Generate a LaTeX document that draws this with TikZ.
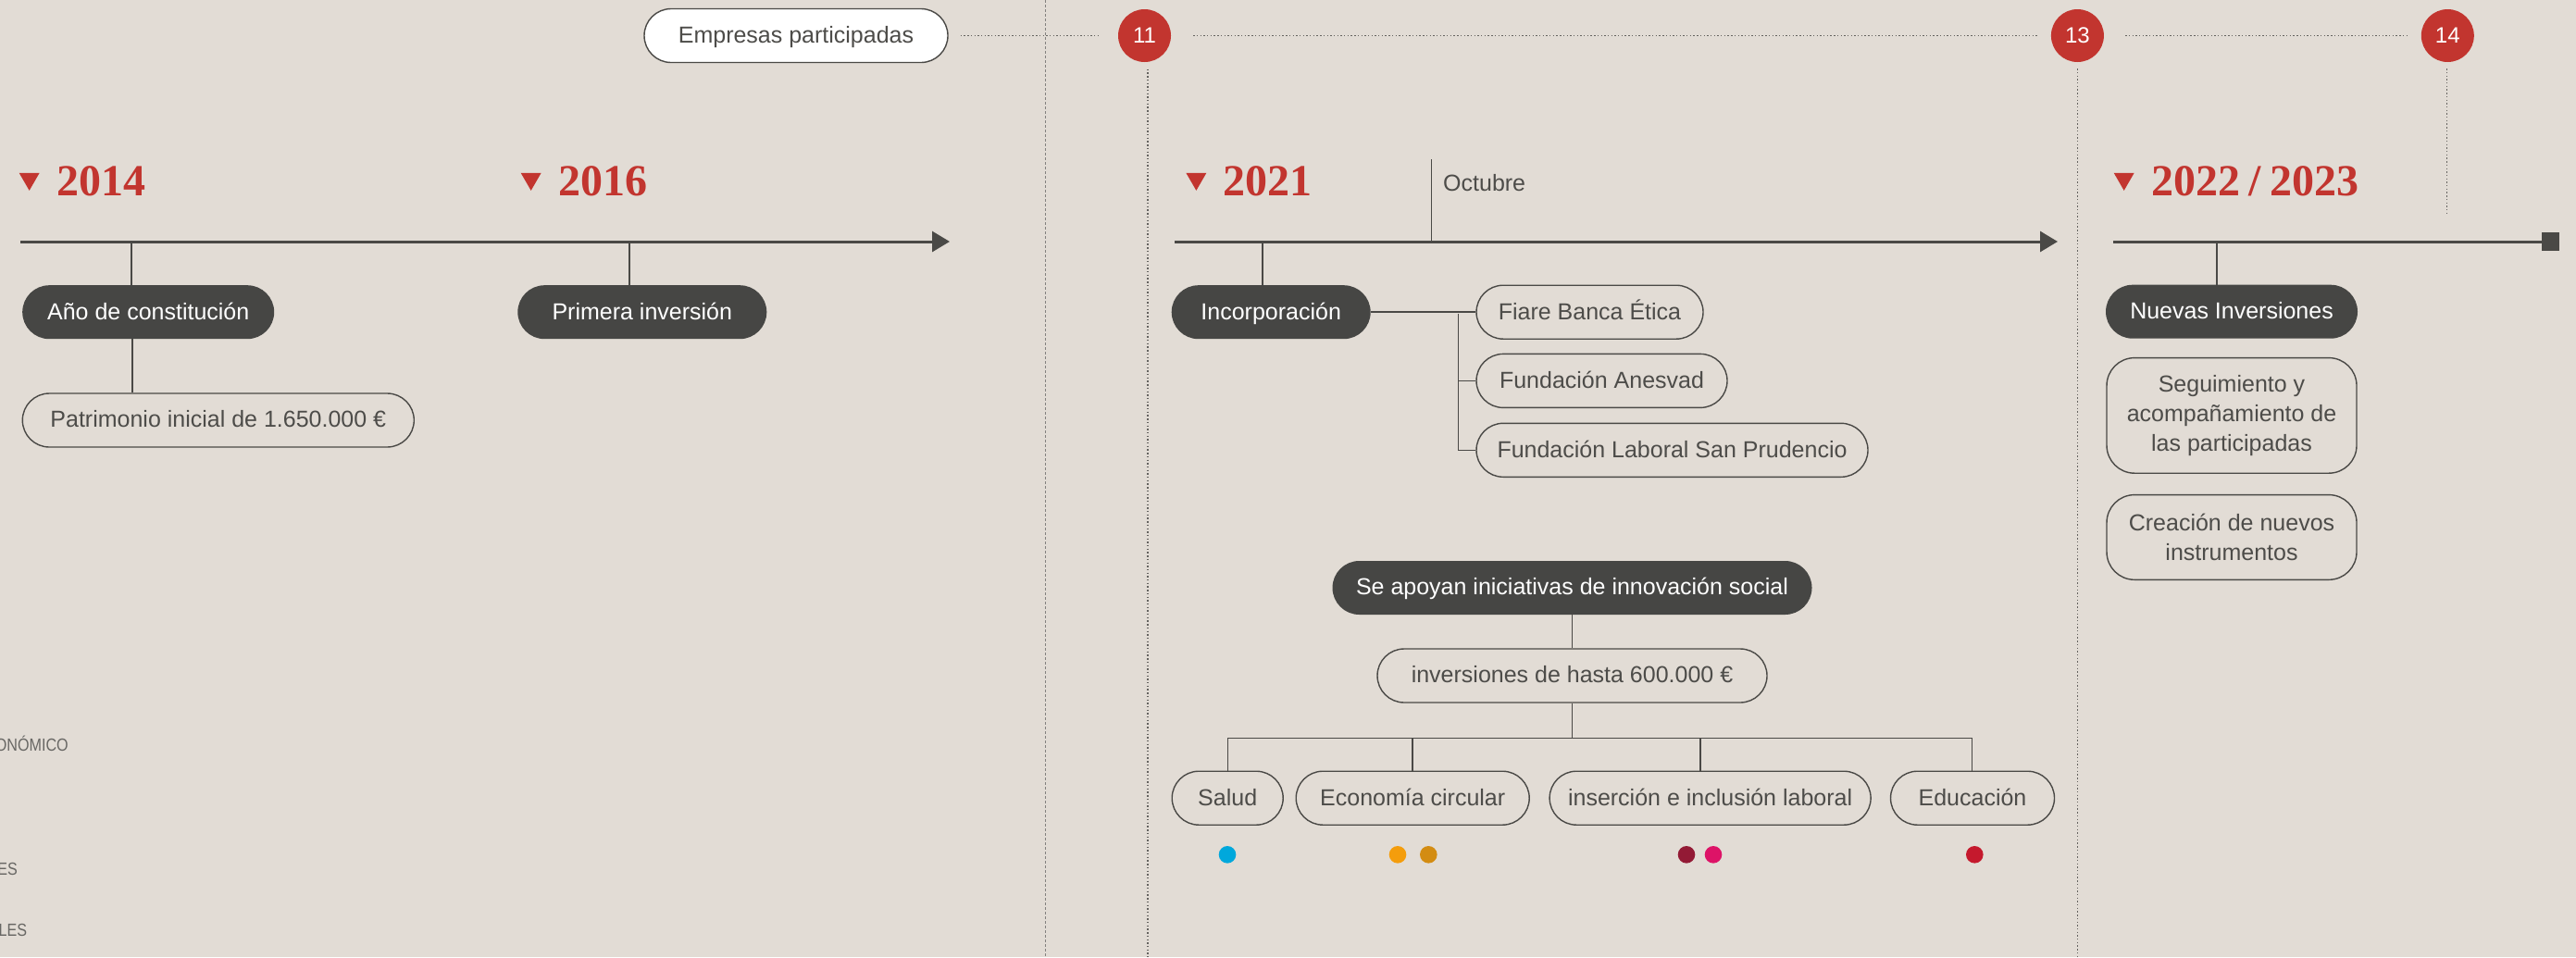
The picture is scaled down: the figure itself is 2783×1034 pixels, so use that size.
\documentclass[tikz,border=0pt]{standalone}
\usepackage{fontspec}
\setmainfont{Liberation Sans}
\newfontfamily\yearfont{Liberation Serif}
\newfontfamily\sidefont[FakeStretch=0.85]{Liberation Sans}
\usepackage{xcolor}
\usetikzlibrary{shapes.geometric,arrows.meta,positioning}

\definecolor{paper}{HTML}{E2DCD5}
\definecolor{ink}{HTML}{464644}
\definecolor{rule}{HTML}{4A4946}
\definecolor{brick}{HTML}{C2352F}
\definecolor{greytext}{HTML}{4D4C49}
\definecolor{dotgrey}{HTML}{64625F}
\definecolor{sdgcyan}{HTML}{00A8DC}
\definecolor{sdgorange}{HTML}{F49D0C}
\definecolor{sdgochre}{HTML}{D38C12}
\definecolor{sdgwine}{HTML}{931A35}
\definecolor{sdgpink}{HTML}{DD1367}
\definecolor{sdgred}{HTML}{C5192D}

\begin{document}
\begin{tikzpicture}[
			x = 1pt, y = -1pt,
			every node/.style = {font=\fontsize{25}{30}\selectfont},
			pill/.style = {rectangle, rounded corners=29pt, minimum height=58pt, inner xsep=0pt, text height=19pt, text depth=3.4pt},
			darkpill/.style = {pill, fill=ink, text=white},
			linepill/.style = {pill, draw=rule, line width=1.4pt, text=greytext},
			infobox/.style = {rectangle, rounded corners=30pt, draw=rule, line width=1.4pt, text=greytext, align=center, minimum width=270pt, inner sep=0pt, font=\fontsize{25}{31.7}\selectfont},
			yearlbl/.style = {anchor=base west, inner sep=0pt, text=brick, font=\yearfont\bfseries\fontsize{48}{48}\selectfont},
			yeartri/.style = {regular polygon, regular polygon sides=3, shape border rotate=180, fill=brick, minimum size=25.4pt, inner sep=0pt, outer sep=0pt},
			numcirc/.style = {circle, fill=brick, text=white, minimum size=57pt, inner sep=0pt, font=\fontsize{24}{24}\selectfont},
			sdgdot/.style = {circle, minimum size=18.6pt, inner sep=0pt},
			axis/.style = {draw=rule, line width=3pt},
			tick/.style = {draw=rule, line width=1.5pt},
			dotline/.style = {draw=dotgrey, line width=1.4pt, dash pattern=on 1.4pt off 2.3pt},
			gutter/.style = {draw=dotgrey!80, line width=0.9pt, dash pattern=on 2.5pt off 2.5pt},
			sidelbl/.style = {anchor=base east, inner sep=0pt, text=greytext!85, font=\sidefont\fontsize{19}{19}\selectfont}
		]

			\useasboundingbox (0,0) rectangle (2783,1034);
			\fill[paper] (0,0) rectangle (2783,1034);

			% page fold and top strip
			\coordinate (gtop) at (1129.5,0);
			\coordinate (gbot) at (1129.5,1034);
			\draw[gutter] (gtop) -- (gbot);

			\node[linepill, fill=white, minimum width=328pt] (emp) at (860,38.5) {Empresas participadas};
			\node[numcirc] (c11) at (1236.5,38.5) {11};
			\node[numcirc] (c13) at (2244.4,38.5) {13};
			\node[numcirc] (c14) at (2644.3,38.5) {14};

			\draw[dotline, shorten <=13pt, shorten >=22pt] (emp.east) -- (c11.west);
			\draw[dotline, shorten <=24pt, shorten >=14pt] (c11.east) -- (c13.west);
			\draw[dotline, shorten <=23pt, shorten >=14pt] (c13.east) -- (c14.west);

			\coordinate (v11) at (1240,1034);
			\coordinate (v13) at (2244.3,1034);
			\coordinate (v14) at (2643.3,232.3);
			\draw[dotline, shorten <=7.5pt] (v11 |- c11.south) -- (v11);
			\draw[dotline, shorten <=7pt] (v13 |- c13.south) -- (v13);
			\draw[dotline, shorten <=7pt] (v14 |- c14.south) -- (v14);

			% timelines
			\coordinate (l1s) at (22,261);
			\coordinate (l1e) at (1026,261);
			\coordinate (l2s) at (1269,261);
			\coordinate (l2e) at (2223,261);
			\coordinate (l3s) at (2283,261);
			\node[rectangle, fill=rule, minimum size=19.3pt, inner sep=0pt] (sq) at (2755.5,261) {};

			\draw[axis, -{Triangle[length=19pt,width=22pt]}] (l1s) -- (l1e);
			\draw[axis, -{Triangle[length=19pt,width=22pt]}] (l2s) -- (l2e);
			\draw[axis] (l3s) -- (sq.west);

			% years
			\node[yearlbl] (y2014) at (61,211.7) {2014};
			\node[yearlbl] (y2016) at (603,211.7) {2016};
			\node[yearlbl] (y2021) at (1321.7,211.7) {2021};
			\node[yearlbl] (y2022) at (2324,211.7) {2022\hspace{0.2em}/\hspace{0.2em}2023};
			\node[yeartri, left=22pt of y2014, yshift=2.8pt] (m2014) {};
			\node[yeartri, left=22pt of y2016, yshift=2.8pt] (m2016) {};
			\node[yeartri, left=22pt of y2021, yshift=2.8pt] (m2021) {};
			\node[yeartri, left=22pt of y2022, yshift=2.8pt] (m2022) {};

			\node[anchor=base west, inner sep=0pt, text=greytext] (oct) at (1559,206) {Octubre};
			\coordinate (octx) at (1546.7,172.3);
			\draw[tick] (octx) -- (octx |- l2s);

			% 2014 / 2016
			\node[darkpill, minimum width=272pt] (anio) at (160.2,337.2) {Año de constitución};
			\node[linepill, minimum width=423pt] (patr) at (235.8,454) {Patrimonio inicial de 1.650.000 €};
			\node[darkpill, minimum width=269pt] (prim) at (693.8,337.2) {Primera inversión};

			\draw[tick] ([xshift=-18pt]anio.north) -- ([xshift=-18pt]anio.north |- l1s);
			\draw[tick] ([xshift=-17pt]anio.south) -- ([xshift=-17pt]anio.south |- patr.north);
			\draw[tick] ([xshift=-14pt]prim.north) -- ([xshift=-14pt]prim.north |- l1s);

			% 2021
			\node[darkpill, minimum width=215pt] (incorp) at (1373.2,337.2) {Incorporación};
			\node[linepill, minimum width=245pt] (fiare) at (1717.5,337.2) {Fiare Banca Ética};
			\node[linepill, minimum width=271pt] (anesvad) at (1730.5,411.4) {Fundación Anesvad};
			\node[linepill, minimum width=423pt] (laboral) at (1806.5,486.3) {Fundación Laboral San Prudencio};

			\draw[tick] ([xshift=-9pt]incorp.north) -- ([xshift=-9pt]incorp.north |- l2s);
			\draw[tick] (incorp.east) -- (fiare.west);
			\coordinate (br) at (1575.3,339);
			\draw[tick] (br) |- (laboral.west);
			\draw[tick] (br |- anesvad.west) -- (anesvad.west);

			\node[darkpill, minimum width=518pt] (apoyan) at (1698.5,635) {Se apoyan iniciativas de innovación social};
			\node[linepill, minimum width=421pt] (hasta) at (1698.5,730) {inversiones de hasta 600.000 €};
			\node[linepill, minimum width=120pt] (salud) at (1326.2,862.2) {Salud};
			\node[linepill, minimum width=252pt] (eco) at (1526.2,862.2) {Economía circular};
			\node[linepill, minimum width=347pt] (ins) at (1847.6,862.2) {inserción e inclusión laboral};
			\node[linepill, minimum width=177pt] (edu) at (2131,862.2) {Educación};

			\draw[tick] (apoyan.south) -- (hasta.north);
			\coordinate (barL) at (1326.7,797.3);
			\coordinate (barR) at (2130.5,797.3);
			\draw[tick] (hasta.south) -- (hasta.south |- barL);
			\draw[tick] (barL |- salud.north) -- (barL) -- (barR) -- (barR |- edu.north);
			\draw[tick] (eco.north |- barL) -- (eco.north);
			\draw[tick] ([xshift=-10.5pt]ins.north |- barL) -- ([xshift=-10.5pt]ins.north);

			\node[sdgdot, fill=sdgcyan] (d1) at (1326,923.3) {};
			\node[sdgdot, fill=sdgorange] (d2) at (1510,923.3) {};
			\node[sdgdot, fill=sdgochre] (d3) at (1543.3,923.3) {};
			\node[sdgdot, fill=sdgwine] (d4) at (1822,923.3) {};
			\node[sdgdot, fill=sdgpink] (d5) at (1851,923.3) {};
			\node[sdgdot, fill=sdgred] (d6) at (2133.3,923.3) {};

			% 2022 / 2023
			\node[darkpill, minimum width=272pt] (nuevas) at (2411,336.7) {Nuevas Inversiones};
			\node[infobox, below=20pt of nuevas, minimum height=124.6pt] (segui) {Seguimiento y\\acompañamiento de\\las participadas};
			\node[infobox, below=22pt of segui, minimum height=91.7pt] (creacion) {Creación de nuevos\\instrumentos};
			\draw[tick] ([xshift=-16pt]nuevas.north) -- ([xshift=-16pt]nuevas.north |- l3s);

			% cut labels at the left edge
			\begin{scope}
				\clip (0,0) rectangle (2783,1034);
				\node[sidelbl] (econ) at (74,811.7) {ONÓMICO};
				\node[sidelbl] (es) at (19,945) {ES};
				\node[sidelbl] (les) at (29.3,1011.7) {LES};
			\end{scope}

		\end{tikzpicture}
\end{document}
